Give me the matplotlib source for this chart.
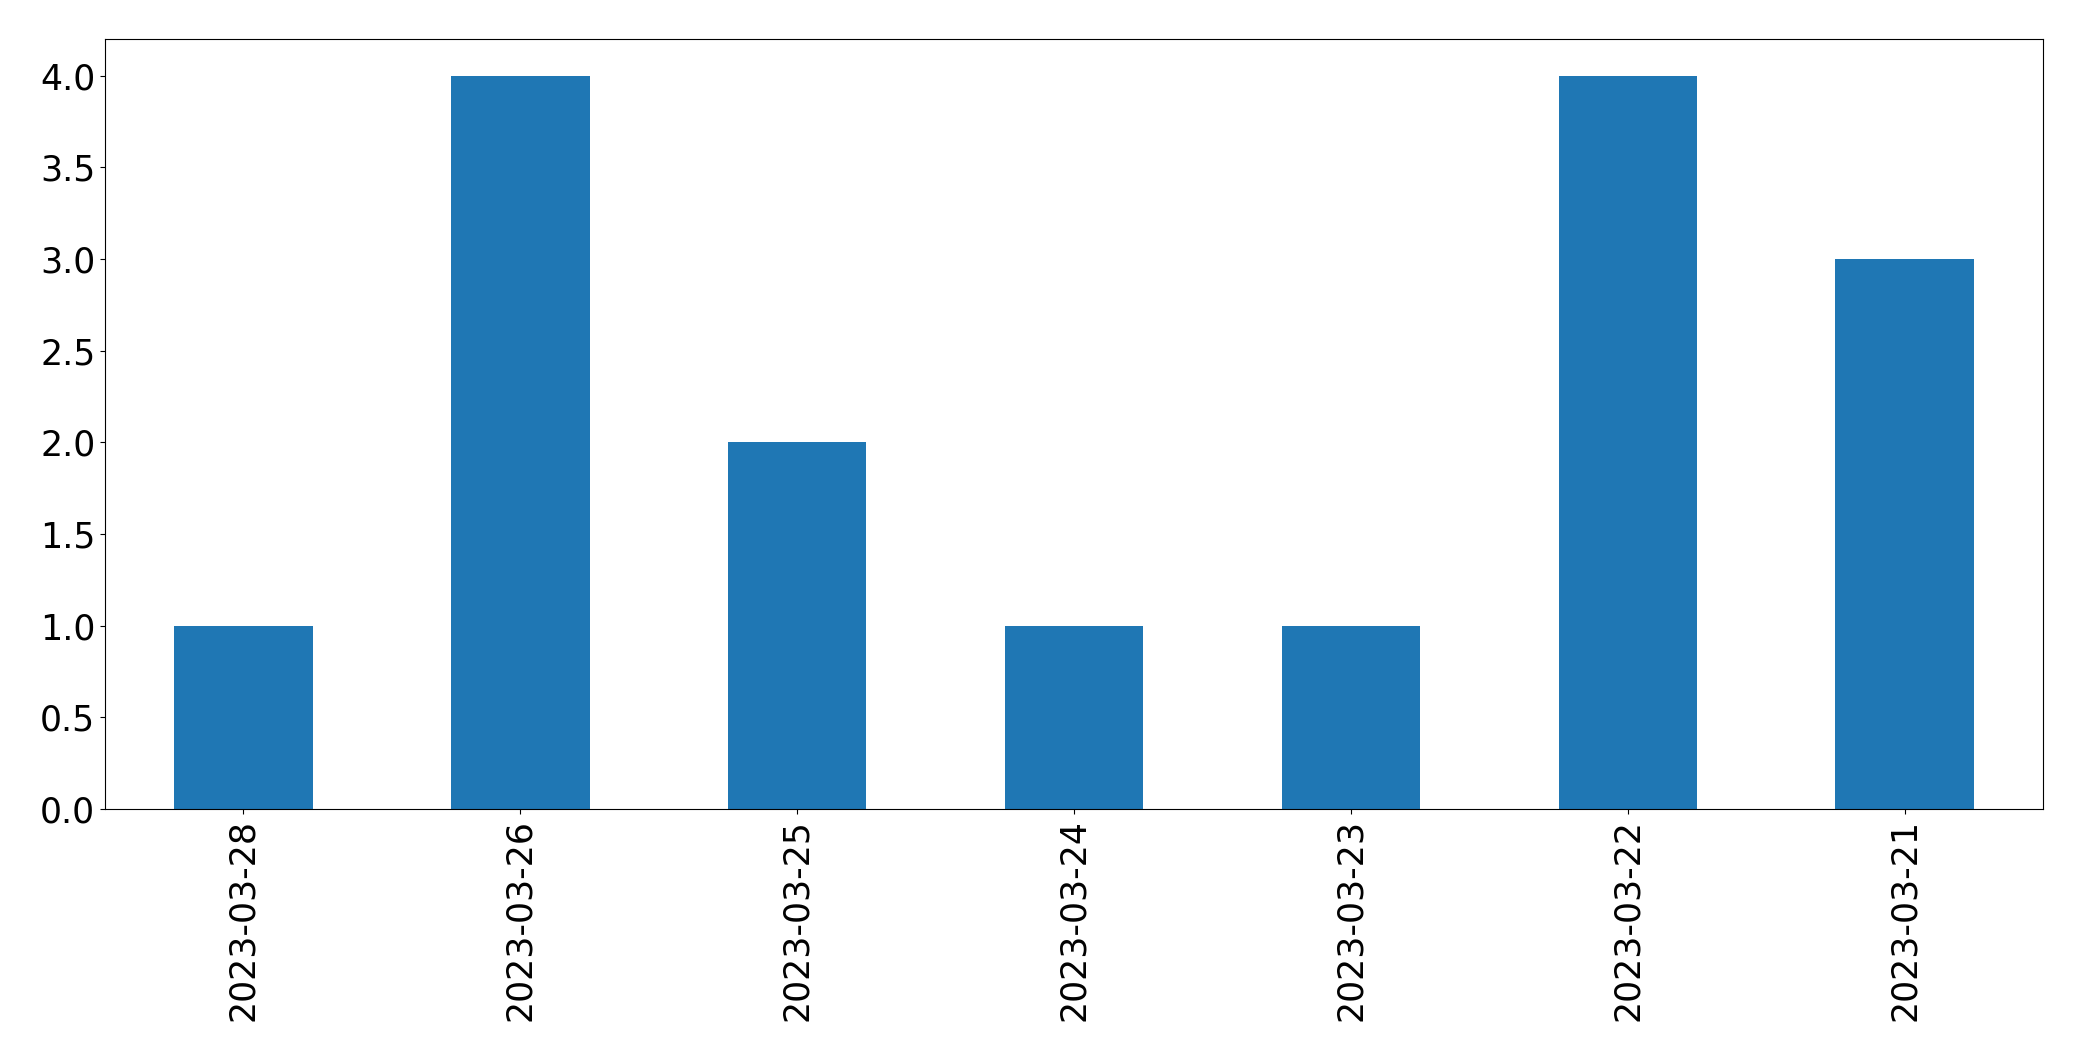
import matplotlib
matplotlib.use("Agg")
import matplotlib.pyplot as plt
import numpy as np

dates = ["2023-03-28", "2023-03-26", "2023-03-25", "2023-03-24",
         "2023-03-23", "2023-03-22", "2023-03-21"]
counts = [1, 4, 2, 1, 1, 4, 3]

fig = plt.figure(figsize=(20.82, 10.61), dpi=100)
ax = fig.add_axes([105 / 2082, 1 - 809 / 1061, (2043 - 105) / 2082, (809 - 39) / 1061])

x = np.arange(len(dates))
ax.bar(x, counts, width=0.5, color="#1f77b4")
ax.set_xlim(-0.5, len(dates) - 0.5)
ax.set_xticks(x)
ax.set_xticklabels(dates, rotation=90)
ax.tick_params(labelsize=25)

fig.savefig("out.png", dpi=100)
